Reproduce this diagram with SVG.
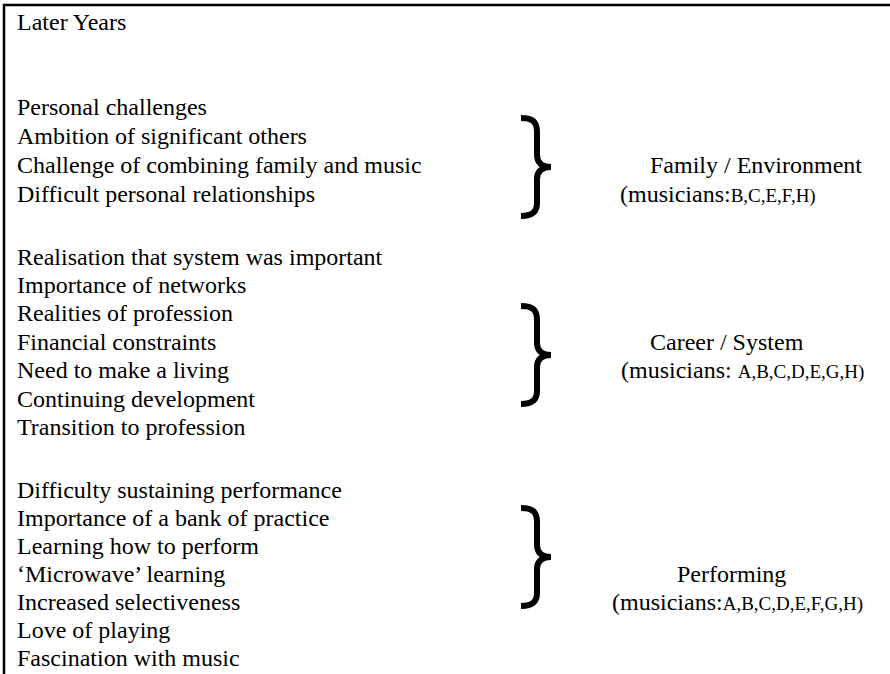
<svg xmlns="http://www.w3.org/2000/svg" width="890" height="674" viewBox="0 0 890 674" font-family="'Liberation Serif','Times New Roman',serif">
<style>
text{font-family:"Liberation Serif","Times New Roman",serif;font-size:24px;fill:#000}
.s{font-size:19px}
.brace{fill:none;stroke:#000;stroke-width:6;stroke-linecap:butt}
.frame{stroke:#000;stroke-width:2.5;fill:none}
</style>
<rect width="890" height="674" fill="#fff"/>
<g id="frame">
<line class="frame" x1="3" y1="5" x2="890" y2="5"/>
<line class="frame" x1="4" y1="4" x2="4" y2="674"/>
</g>
<g id="title"><text x="17" y="30">Later Years</text></g>
<g id="family-items">
<text x="17" y="115">Personal challenges</text>
<text x="17" y="144">Ambition of significant others</text>
<text x="17" y="173">Challenge of combining family and music</text>
<text x="17" y="202">Difficult personal relationships</text>
</g>
<g id="career-items">
<text x="17" y="265">Realisation that system was important</text>
<text x="17" y="293">Importance of networks</text>
<text x="17" y="321">Realities of profession</text>
<text x="17" y="350">Financial constraints</text>
<text x="17" y="378">Need to make a living</text>
<text x="17" y="407">Continuing development</text>
<text x="17" y="435">Transition to profession</text>
</g>
<g id="performing-items">
<text x="17" y="498">Difficulty sustaining performance</text>
<text x="17" y="526">Importance of a bank of practice</text>
<text x="17" y="554">Learning how to perform</text>
<text x="17" y="582">‘Microwave’ learning</text>
<text x="17" y="610">Increased selectiveness</text>
<text x="17" y="638">Love of playing</text>
<text x="17" y="666">Fascination with music</text>
</g>
<g id="connectors">
<path class="brace" d="M521 118 C533 118 537 122 537 132 L537 155 C537 163 542 167 551 167 C542 167 537 171 537 179 L537 203 C537 211 533 216 521 216"/>
<path class="brace" d="M521 306 C533 306 537 310 537 320 L537 343 C537 351 542 355 551 355 C542 355 537 359 537 367 L537 391 C537 399 533 404 521 404"/>
<path class="brace" d="M521 508 C533 508 537 512 537 522 L537 545 C537 553 542 557 551 557 C542 557 537 561 537 569 L537 593 C537 601 533 606 521 606"/>
</g>
<g id="family-label">
<text x="650" y="173">Family / Environment</text>
<text x="620" y="202">(musicians:<tspan class="s">B,C,E,F,H)</tspan></text>
</g>
<g id="career-label">
<text x="650" y="350">Career / System</text>
<text x="621" y="378">(musicians: <tspan class="s">A,B,C,D,E,G,H)</tspan></text>
</g>
<g id="performing-label">
<text x="677" y="582">Performing</text>
<text x="612" y="610">(musicians:<tspan class="s">A,B,C,D,E,F,G,H)</tspan></text>
</g>
</svg>
